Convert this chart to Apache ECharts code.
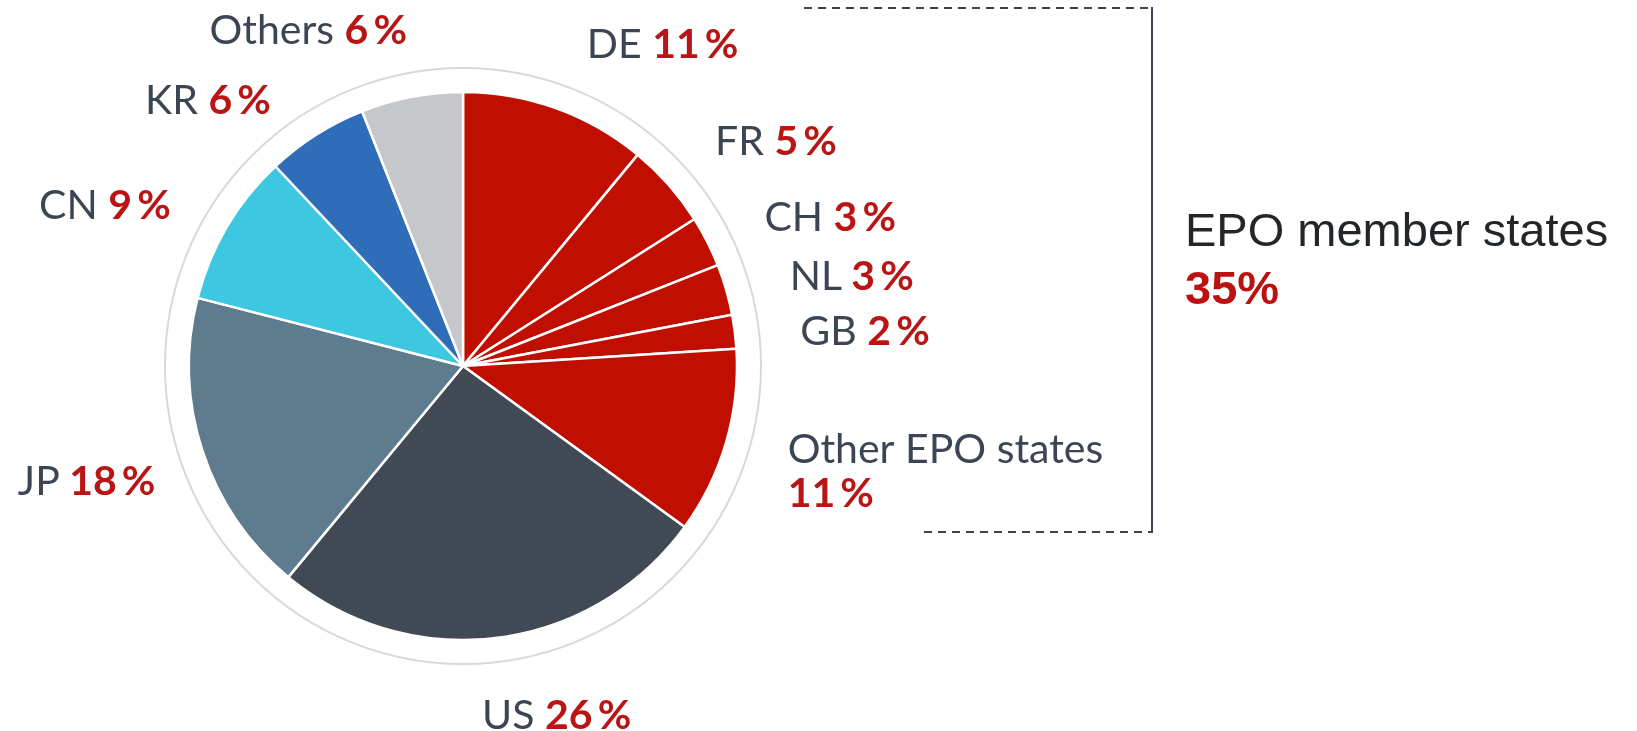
<!DOCTYPE html>
<html>
<head>
<meta charset="utf-8">
<script src="https://cdn.jsdelivr.net/npm/echarts@6/dist/echarts.min.js"></script>
<style>
  html, body { margin: 0; padding: 0; background: #fff; }
  #chart { width: 1637px; height: 731px; }
</style>
</head>
<body>
<div id="chart"></div>
<script>
// 국가별 출원 비율 (%)
const countries = ['DE', 'FR', 'CH', 'NL', 'GB', 'Other EPO states', 'US', 'JP', 'CN', 'KR', 'Others'];
const shares = [11, 5, 3, 3, 2, 11, 26, 18, 9, 6, 6];
const epoTotal = 35;

const sliceColors = ['#c00f00', '#c00f00', '#c00f00', '#c00f00', '#c00f00', '#c00f00',
  '#404954', '#5f7b8e', '#3ec7e0', '#2f6db9', '#c5c7ca'];

// 라벨 미세 위치 조정 (px)
const labelNudge = [[10, -5], [0, -2], [2, 4], [4, 5], [4, 8], [2, 12],
  [-23, 16], [12, 12], [-3, 11], [-12, 18], [7, -5]];

function pieData() {
  return countries.map(function (name, i) {
    return {
      name: name,
      value: shares[i],
      itemStyle: { color: sliceColors[i] }
    };
  });
}

function labelFormatter(params) {
  const pct = params.value + '\u2009%';
  if (params.name === 'Other EPO states') {
    return '{n|' + params.name + '}\n{p|' + pct + '}';
  }
  return '{n|' + params.name + '\u00a0}{p|' + pct + '}';
}

var myChart = echarts.init(document.getElementById('chart'));
var cx = 463, cy = 366;

myChart.setOption({
  animation: false,
  graphic: [
    {
      type: 'circle',
      shape: { cx: cx, cy: cy, r: 298 },
      style: { fill: 'none', stroke: '#d9d9d9', lineWidth: 2 },
      z: 0
    },
    {
      type: 'polyline',
      shape: { points: [[804, 8], [1152, 8]] },
      style: { stroke: '#3d4550', lineWidth: 2, lineDash: [8, 6], fill: null }
    },
    {
      type: 'line',
      shape: { x1: 1152, y1: 7, x2: 1152, y2: 533 },
      style: { stroke: '#3d4550', lineWidth: 2 }
    },
    {
      type: 'polyline',
      shape: { points: [[924, 532], [1152, 532]] },
      style: { stroke: '#3d4550', lineWidth: 2, lineDash: [8, 6], fill: null }
    },
    {
      type: 'text',
      left: 1185,
      top: 210,
      style: {
        text: 'EPO member states',
        font: '47px "Liberation Sans", Arial, sans-serif',
        fill: '#222629'
      }
    },
    {
      type: 'text',
      left: 1185,
      top: 268,
      style: {
        text: epoTotal + '%',
        font: 'bold 47px "Liberation Sans", Arial, sans-serif',
        fill: '#bb1111'
      }
    }
  ],
  series: [
    {
      type: 'pie',
      center: [cx, cy],
      radius: [0, 274],
      startAngle: 90,
      clockwise: true,
      avoidLabelOverlap: false,
      itemStyle: { borderColor: '#ffffff', borderWidth: 2.5 },
      label: {
        show: true,
        position: 'outside',
        distanceToLabelLine: 0,
        formatter: labelFormatter,
        rich: {
          n: { fontFamily: 'Lato', fontSize: 41, color: '#3c4653', lineHeight: 44 },
          p: { fontFamily: 'Lato', fontSize: 41, fontWeight: 'bold', color: '#b91515', lineHeight: 44 }
        }
      },
      labelLine: { show: false, length: 62, length2: 0 },
      labelLayout: function (params) {
        const nudge = labelNudge[params.dataIndex];
        return { dx: nudge[0], dy: nudge[1] };
      },
      emphasis: { disabled: true },
      data: pieData()
    }
  ]
});

window.addEventListener('resize', function () {
  myChart.resize();
});
</script>
</body>
</html>
